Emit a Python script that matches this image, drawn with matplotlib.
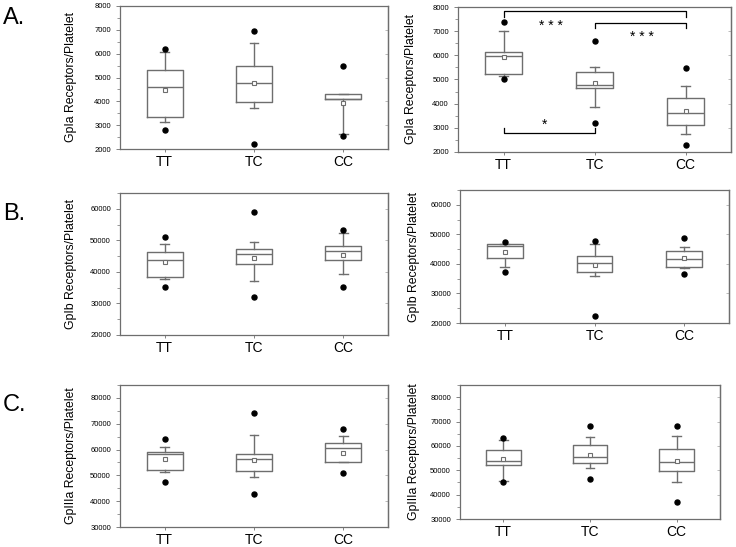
import matplotlib
matplotlib.use("Agg")
import matplotlib.pyplot as plt
from matplotlib.ticker import MultipleLocator, NullLocator

plt.rcParams['font.family'] = ['Liberation Sans', 'DejaVu Sans']

genotypes = ['TT', 'TC', 'CC']

# box stats per genotype: [whisker low, q1, median, q3, whisker high]
gpia_a_box = [[3120, 3340, 4600, 5320, 6090],
              [3720, 3970, 4760, 5500, 6440],
              [2650, 4100, 4100, 4300, 4300]]
gpia_a_mean = [4460, 4770, 3910]
gpia_a_min = [2810, 2210, 2560]
gpia_a_max = [6190, 6970, 5470]

gpia_b_box = [[5150, 5220, 5980, 6120, 6990],
              [3870, 4630, 4770, 5300, 5530],
              [2760, 3100, 3600, 4220, 4750]]
gpia_b_mean = [5920, 4860, 3680]
gpia_b_min = [5030, 3200, 2300]
gpia_b_max = [7390, 6580, 5480]

gpib_a_box = [[37700, 38300, 43700, 46300, 48700],
              [37100, 42400, 45600, 47200, 49400],
              [39300, 43800, 46600, 48100, 52300]]
gpib_a_mean = [43100, 44300, 45500]
gpib_a_min = [35100, 32100, 35100]
gpib_a_max = [51100, 58900, 53300]

gpib_b_box = [[39000, 42100, 46000, 46800, 46800],
              [36000, 37400, 40300, 42800, 46600],
              [38700, 39000, 41800, 44400, 45600]]
gpib_b_mean = [43900, 39500, 42000]
gpib_b_min = [37400, 22300, 36700]
gpib_b_max = [47400, 47900, 48600]

gpiiia_a_box = [[51400, 52000, 58300, 59000, 61000],
                [49500, 51800, 56300, 58100, 65600],
                [55300, 55300, 60500, 62500, 65200]]
gpiiia_a_mean = [56400, 56000, 58800]
gpiiia_a_min = [47300, 42700, 51000]
gpiiia_a_max = [64100, 74300, 67900]

gpiiia_b_box = [[45800, 52000, 54000, 58200, 62500],
                [50800, 53000, 55500, 60300, 63500],
                [45000, 49600, 53500, 58800, 64000]]
gpiiia_b_mean = [54800, 56300, 53700]
gpiiia_b_min = [45000, 46300, 37000]
gpiiia_b_max = [63300, 68200, 68300]

W, H = 736, 547
GREY = '#6e6e6e'
LIGHT = '#b0b0b0'


def make_axes(fig, x0, y0, x1, y1):
    return fig.add_axes([x0 / W, 1 - y1 / H, (x1 - x0) / W, (y1 - y0) / H])


def box_panel(ax, box, means, mins, maxs, ylim, major, minor, ylabel, label_x):
    stats = []
    for b, m in zip(box, means):
        stats.append(dict(whislo=b[0], q1=b[1], med=b[2], q3=b[3], whishi=b[4],
                          mean=m, fliers=[]))
    pos = [1, 2, 3]
    ax.bxp(stats, positions=pos, widths=0.4, showmeans=True, patch_artist=False,
           boxprops=dict(color=GREY, linewidth=1.0),
           whiskerprops=dict(color=GREY, linewidth=1.0),
           capprops=dict(color=GREY, linewidth=1.0),
           medianprops=dict(color=GREY, linewidth=1.0),
           meanprops=dict(marker='s', markersize=3.5, markerfacecolor='white',
                          markeredgecolor=GREY, markeredgewidth=0.8),
           capwidths=0.1)
    ax.plot(pos, mins, 'o', color='black', markersize=3.6)
    ax.plot(pos, maxs, 'o', color='black', markersize=3.6)
    ax.set_xlim(0.5, 3.5)
    ax.set_ylim(*ylim)
    ax.set_xticks(pos)
    ax.set_xticklabels(genotypes, fontsize=10)
    ax.yaxis.set_major_locator(MultipleLocator(major))
    ax.yaxis.set_minor_locator(MultipleLocator(minor))
    ax.tick_params(axis='y', which='both', labelsize=5.5, colors=GREY,
                   labelcolor='black', direction='out')
    ax.tick_params(axis='y', which='major', length=3, width=0.6)
    ax.tick_params(axis='y', which='minor', length=2, width=0.5)
    ax.tick_params(axis='x', length=2, width=0.6, colors=GREY, labelcolor='black', pad=2)
    for s in ax.spines.values():
        s.set_color(GREY)
        s.set_linewidth(0.9)
    # faint inward ticks on the right spine
    sec = ax.secondary_yaxis('right')
    sec.yaxis.set_major_locator(MultipleLocator(major))
    sec.yaxis.set_minor_locator(NullLocator())
    sec.tick_params(direction='in', length=2, width=0.6, colors=LIGHT, labelright=False)
    sec.spines['right'].set_color(GREY)
    sec.spines['right'].set_linewidth(0.9)
    ax.set_ylabel(ylabel, fontsize=8.8)
    ax.yaxis.set_label_coords(label_x, 0.5)


fig = plt.figure(figsize=(W / 100, H / 100), dpi=100)

ax1 = make_axes(fig, 120, 6, 388, 149)
box_panel(ax1, gpia_a_box, gpia_a_mean, gpia_a_min, gpia_a_max,
          (2000, 8000), 1000, 500, 'GpIa Receptors/Platelet', -0.16)

ax2 = make_axes(fig, 458, 7, 731, 152)
box_panel(ax2, gpia_b_box, gpia_b_mean, gpia_b_min, gpia_b_max,
          (2000, 8000), 1000, 500, 'GpIa Receptors/Platelet', -0.15)

# significance brackets
ax2.plot([1, 1, 3, 3], [7600, 7820, 7820, 7600], color='black', linewidth=0.9)
ax2.plot([2, 2, 3, 3], [7150, 7340, 7340, 7150], color='black', linewidth=0.9)
ax2.plot([1, 1, 2, 2], [3000, 2790, 2790, 3000], color='black', linewidth=0.9)
ax2.text(1.52, 7200, '* * *', ha='center', va='center', fontsize=10)
ax2.text(2.52, 6750, '* * *', ha='center', va='center', fontsize=10)
ax2.text(1.45, 3130, '*', ha='center', va='center', fontsize=10)

ax3 = make_axes(fig, 120, 193, 388, 335)
box_panel(ax3, gpib_a_box, gpib_a_mean, gpib_a_min, gpib_a_max,
          (20000, 65000), 10000, 5000, 'GpIb Receptors/Platelet', -0.16)

ax4 = make_axes(fig, 460, 190, 729, 323)
box_panel(ax4, gpib_b_box, gpib_b_mean, gpib_b_min, gpib_b_max,
          (20000, 65000), 10000, 5000, 'GpIb Receptors/Platelet', -0.15)

ax5 = make_axes(fig, 120, 385, 388, 527)
box_panel(ax5, gpiiia_a_box, gpiiia_a_mean, gpiiia_a_min, gpiiia_a_max,
          (30000, 85000), 10000, 5000, 'GpIIIa Receptors/Platelet', -0.16)

ax6 = make_axes(fig, 460, 385, 720, 519)
box_panel(ax6, gpiiia_b_box, gpiiia_b_mean, gpiiia_b_min, gpiiia_b_max,
          (30000, 85000), 10000, 5000, 'GpIIIa Receptors/Platelet', -0.155)

for txt, y in [('A.', 18), ('B.', 214), ('C.', 405)]:
    fig.text(3 / W, 1 - y / H, txt, fontsize=17, ha='left', va='center')

fig.savefig('out.png', dpi=100)
